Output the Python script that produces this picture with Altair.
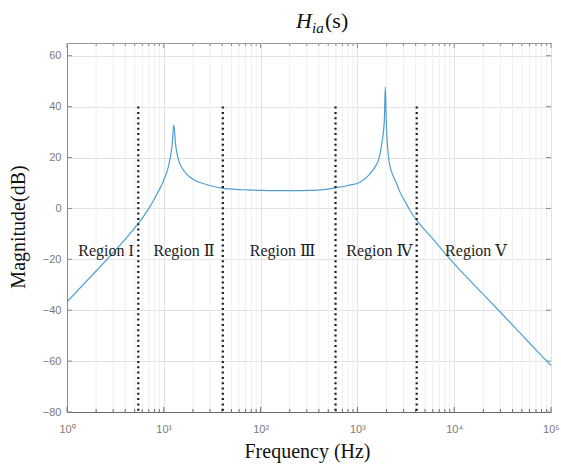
import altair as alt
import pandas as pd

# Magnitude response of H_ia(s), read as (frequency in Hz, magnitude in dB)
freq_hz = [1, 1.5, 2, 3, 4, 5.45, 6.2, 7, 8.1, 9.9, 11, 11.6, 12.2, 12.7, 13.2,
           14.1, 15.5, 17.2, 19.5, 21.9, 26, 30, 41, 55, 72, 100, 150, 200, 324,
           450, 594, 800, 1064, 1349, 1550, 1645, 1782, 1897, 1942, 1990, 2050,
           2137, 2300, 2546, 2754, 3100, 3490, 4100, 5500, 7000, 9060, 13000,
           20000, 29700, 50000, 70000, 100000]
mag_db = [-36.7, -29.6, -24.6, -17.4, -12.1, -5.9, -3.0, 0.0, 4.2, 10.8, 15.5,
          19.5, 25.0, 32.8, 25.5, 19.5, 15.8, 13.5, 11.8, 10.7, 9.7, 9.0, 7.9,
          7.5, 7.3, 7.1, 7.0, 7.0, 7.1, 7.4, 8.1, 9.0, 10.3, 13.6, 16.8, 18.8,
          25.3, 34.4, 47.7, 33.0, 24.0, 18.0, 13.5, 9.7, 6.4, 2.8, -0.8, -4.7,
          -10.3, -14.9, -19.9, -26.4, -33.8, -40.6, -49.7, -55.6, -61.8]

# Region boundaries (dotted lines) and region captions
boundary_hz = [5.45, 40.7, 594, 4100]
boundary_top_db = 40
boundary_bottom_db = -79.5
region_names = ["Region I", "Region Ⅱ", "Region Ⅲ", "Region Ⅳ", "Region Ⅴ"]
region_hz = [2.53, 16.2, 169, 1684, 16800]
region_db = [-16.7, -16.7, -16.7, -16.7, -16.7]

# Axis ticks
decades = [1, 10, 100, 1000, 10000, 100000]
minor_steps = [2, 3, 4, 5, 6, 7, 8, 9]
y_ticks = [-80, -60, -40, -20, 0, 20, 40, 60]

# Title pieces (H, subscript ia, (s)) and axis titles
title_parts = ["H", "ia", "(s)"]
x_title = "Frequency (Hz)"
y_title = "Magnitude(dB)"

W, H = 484, 369
SERIF = "Liberation Serif, DejaVu Serif, serif"
SANS = "Liberation Sans, Arial, sans-serif"

minor_hz = [d * m for d in decades[:-1] for m in minor_steps]

x_scale = alt.Scale(type="log", domain=[1, 100000], nice=False)
y_scale = alt.Scale(domain=[-80, 65], nice=False)

curve_df = pd.DataFrame({"f": freq_hz, "db": mag_db})
major_df = pd.DataFrame({"f": decades})
minor_df = pd.DataFrame({"f": minor_hz})
ytick_df = pd.DataFrame({"db": y_ticks})
bound_df = pd.DataFrame({"f": boundary_hz,
                         "db": [boundary_top_db] * len(boundary_hz),
                         "db2": [boundary_bottom_db] * len(boundary_hz)})
region_df = pd.DataFrame({"f": region_hz, "db": region_db, "name": region_names})

sup = "['⁰','¹','²','³','⁴','⁵'][round(log(datum.value)/LN10)]"

x_axis = alt.Axis(values=decades, labelExpr="'10' + " + sup, title=None,
                  grid=True, gridColor="#e2e2e2", ticks=False, domain=True,
                  domainColor="#6a6a6a", labelFont=SANS, labelFontSize=11,
                  labelColor="#7a7a7a", labelPadding=11, labelFlush=False)
y_axis = alt.Axis(values=y_ticks, title=None, grid=True,
                  gridColor="#e2e2e2", ticks=False, domain=True,
                  domainColor="#8a8a8a", labelFont=SANS, labelFontSize=11,
                  labelColor="#7a7a7a", labelPadding=6, labelFlush=False)

X = alt.X("f:Q", scale=x_scale, axis=x_axis)
Y = alt.Y("db:Q", scale=y_scale, axis=y_axis)

# Minor vertical grid lines of the log axis
minor_grid = alt.Chart(minor_df).mark_rule(color="#efefef", strokeWidth=1).encode(
    x=X, y=alt.value(0), y2=alt.value(H))

# Inward ticks on all four sides
bot_major = alt.Chart(major_df).mark_rule(color="#6a6a6a").encode(
    x=X, y=alt.value(H), y2=alt.value(H - 5))
bot_minor = alt.Chart(minor_df).mark_rule(color="#6a6a6a").encode(
    x=X, y=alt.value(H), y2=alt.value(H - 3))
top_major = alt.Chart(major_df).mark_rule(color="#8a8a8a").encode(
    x=X, y=alt.value(0), y2=alt.value(5))
top_minor = alt.Chart(minor_df).mark_rule(color="#8a8a8a").encode(
    x=X, y=alt.value(0), y2=alt.value(3))
left_ticks = alt.Chart(ytick_df).mark_rule(color="#8a8a8a").encode(
    y=Y, x=alt.value(0), x2=alt.value(5))
right_ticks = alt.Chart(ytick_df).mark_rule(color="#8a8a8a").encode(
    y=Y, x=alt.value(W - 5), x2=alt.value(W))

curve = alt.Chart(curve_df).mark_line(color="#4f9fd0", strokeWidth=1.2,
                                      interpolate="monotone").encode(x=X, y=Y)

bounds = alt.Chart(bound_df).mark_rule(color="#1a1a1a", strokeWidth=2.2,
                                       strokeDash=[2, 3.3]).encode(
    x=X, y=Y, y2="db2:Q")

regions = alt.Chart(region_df).mark_text(font=SERIF, fontSize=16, color="#222222",
                                         baseline="middle", align="center").encode(
    x=X, y=Y, text="name:N")


def label(text, **kw):
    return alt.Chart(pd.DataFrame({"t": [text]})).mark_text(
        font=SERIF, color="#111111", **kw).encode(text="t:N")


t_h = label(title_parts[0], fontSize=22, fontStyle="italic", align="left",
            baseline="alphabetic").encode(x=alt.value(229), y=alt.value(-15))
t_sub = label(title_parts[1], fontSize=15, fontStyle="italic", align="left",
              baseline="alphabetic").encode(x=alt.value(245), y=alt.value(-10))
t_s = label(title_parts[2], fontSize=22, align="left",
            baseline="alphabetic").encode(x=alt.value(258), y=alt.value(-15))
t_x = label(x_title, fontSize=20, align="center",
            baseline="alphabetic").encode(x=alt.value(240.5), y=alt.value(415))
t_y = label(y_title, fontSize=20, align="center", angle=270,
            baseline="alphabetic").encode(x=alt.value(-42.5), y=alt.value(184))

chart = alt.layer(minor_grid, bot_major, bot_minor, top_major, top_minor,
                  left_ticks, right_ticks, curve, bounds, regions,
                  t_h, t_sub, t_s, t_x, t_y).properties(
    width=W, height=H, autosize="none",
    padding={"left": 67, "top": 43, "right": 10, "bottom": 56},
    background="white",
).configure_view(stroke="#9a9a9a", strokeWidth=1)

chart.save("out.html", embed_options={"renderer": "svg", "actions": False})
